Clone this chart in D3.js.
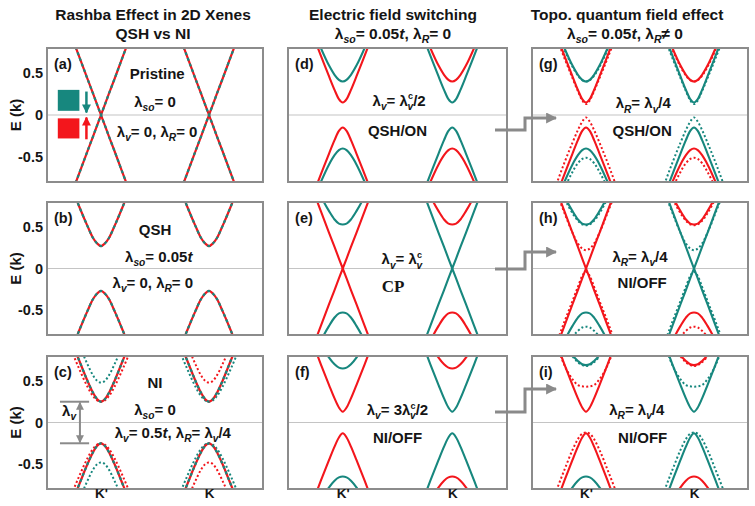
<!DOCTYPE html>
<html>
<head>
<meta charset="utf-8">
<script src="https://cdn.jsdelivr.net/npm/d3@7"></script>
<style>
body { margin: 0; background: #fff; }
text { font-family: "Liberation Sans", Arial, sans-serif; font-weight: bold; fill: #151515; }
</style>
</head>
<body>
<div id="chart"></div>
<script>
const width = 755;
const height = 506;
const red = "#f3161c";
const teal = "#17877e";
const gray = "#8a8a8a";

// k offsets from the valley centre where the band profiles were read
const qOffsets = [0, 0.07, 0.15, 0.25, 0.4, 0.55];
const valleyNames = ["K'", "K"];
const valleyK = [1, 3];
const yTicks = [-0.5, 0, 0.5];
const yTickLabels = ["-0.5", "0", "0.5"];

// |E| at qOffsets
const dirac = [0, 0.12, 0.26, 0.43, 0.69, 0.95];
const gap13 = [0.13, 0.18, 0.29, 0.45, 0.70, 0.96];
const gap15 = [0.15, 0.19, 0.30, 0.46, 0.71, 0.96];
const gap25 = [0.25, 0.28, 0.36, 0.50, 0.74, 0.98];
const gap27 = [0.27, 0.30, 0.37, 0.51, 0.74, 0.99];
const gap40 = [0.40, 0.42, 0.48, 0.59, 0.80, 1.04];
const gap53 = [0.53, 0.54, 0.59, 0.69, 0.87, 1.09];
const gap65 = [0.65, 0.66, 0.70, 0.78, 0.95, 1.17];
const gap69 = [0.69, 0.70, 0.74, 0.81, 0.98, 1.19];
const gap70 = [0.70, 0.71, 0.75, 0.82, 0.98, 1.19];
const narrow48 = [0.48, 0.50, 0.57, 0.70, 0.93, 1.18];
const wide25 = [0.25, 0.265, 0.32, 0.43, 0.64, 0.87];
const wide03 = [0.03, 0.08, 0.18, 0.33, 0.57, 0.83];
const narrow51 = [0.51, 0.525, 0.575, 0.68, 0.88, 1.12];
const wide13 = [0.13, 0.175, 0.285, 0.44, 0.68, 0.93];
const wide40 = [0.40, 0.415, 0.47, 0.575, 0.78, 1.01];
const round22 = [0.22, 0.24, 0.30, 0.43, 0.67, 0.92];
const wide04 = [0.04, 0.09, 0.22, 0.39, 0.64, 0.90];
const wide53 = [0.52, 0.53, 0.575, 0.665, 0.845, 1.07];
const flat43 = [0.43, 0.435, 0.45, 0.52, 0.69, 0.95];
const wide12 = [0.12, 0.135, 0.20, 0.33, 0.57, 0.82];
const wide69 = [0.68, 0.69, 0.725, 0.795, 0.955, 1.16];

// bands: [valley, sign, kind, profile]
const bandsA = [[0, 1, "dual", dirac], [0, -1, "dual", dirac], [1, 1, "dual", dirac], [1, -1, "dual", dirac]];
const bandsB = [[0, 1, "dual", gap27], [0, -1, "dual", gap27], [1, 1, "dual", gap27], [1, -1, "dual", gap27]];
const bandsC = [
    [0, 1, "tealDot", narrow48], [0, 1, "redDot", wide25], [0, -1, "redDot", wide25], [0, -1, "tealDot", narrow48],
    [1, 1, "redDot", narrow48], [1, 1, "tealDot", wide25], [1, -1, "tealDot", wide25], [1, -1, "redDot", narrow48],
    [0, 1, "dual", gap25], [0, -1, "dual", gap25], [1, 1, "dual", gap25], [1, -1, "dual", gap25]];
const bandsD = [
    [0, 1, "teal", gap40], [0, 1, "red", gap15], [0, -1, "red", gap15], [0, -1, "teal", gap40],
    [1, 1, "red", gap40], [1, 1, "teal", gap15], [1, -1, "teal", gap15], [1, -1, "red", gap40]];
const bandsE = [
    [0, 1, "red", dirac], [0, -1, "red", dirac], [0, 1, "teal", gap53], [0, -1, "teal", gap53],
    [1, 1, "teal", dirac], [1, -1, "teal", dirac], [1, 1, "red", gap53], [1, -1, "red", gap53]];
const bandsF = [
    [0, 1, "red", gap13], [0, -1, "red", gap13], [0, 1, "teal", gap65], [0, -1, "teal", gap65],
    [1, 1, "teal", gap13], [1, -1, "teal", gap13], [1, 1, "red", gap65], [1, -1, "red", gap65]];
const bandsG = [
    [0, 1, "redDot", wide13], [0, 1, "tealDot", wide40], [0, -1, "redDot", wide03], [0, -1, "tealDot", narrow51],
    [1, 1, "tealDot", wide13], [1, 1, "redDot", wide40], [1, -1, "tealDot", wide03], [1, -1, "redDot", narrow51],
    ...bandsD];
const bandsH = [
    [0, 1, "redDot", round22], [0, -1, "redDot", wide04], [0, 1, "tealDot", wide53], [0, -1, "tealDot", gap70],
    [1, 1, "tealDot", round22], [1, -1, "tealDot", wide04], [1, 1, "redDot", wide53], [1, -1, "redDot", gap70],
    ...bandsE];
const bandsI = [
    [0, 1, "redDot", flat43], [0, -1, "redDot", wide12], [0, 1, "tealDot", wide69],
    [1, 1, "tealDot", flat43], [1, -1, "tealDot", wide12], [1, 1, "redDot", wide69],
    [0, 1, "red", gap13], [0, -1, "red", gap13], [0, 1, "teal", gap69], [0, -1, "teal", gap65],
    [1, 1, "teal", gap13], [1, -1, "teal", gap13], [1, 1, "red", gap69], [1, -1, "red", gap65]];

const panelBands = [bandsA, bandsB, bandsC, bandsD, bandsE, bandsF, bandsG, bandsH, bandsI];
const panelLetters = ["(a)", "(b)", "(c)", "(d)", "(e)", "(f)", "(g)", "(h)", "(i)"];

const lamSo = [["λ"], ["so", "sub"]];
const lamV = [["λ"], ["v", "sub"]];
const lamR = [["λ"], ["R", "sub"]];
const lamVc = [["λ"], ["c", "sup"], ["v", "subx"]];

// labels inside panels: [k, E, parts, serif]
const notes = [
    [[2.04, 0.43, [["Pristine"]]], [2.0, 0.10, [...lamSo, ["= 0"]]], [2.04, -0.26, [...lamV, ["= 0, λ"], ["R", "sub"], ["= 0"]]]],
    [[2.0, 0.40, [["QSH"]]], [2.07, 0.08, [...lamSo, ["= 0.05"], ["t", "it"]]], [1.96, -0.23, [...lamV, ["= 0, λ"], ["R", "sub"], ["= 0"]]]],
    [[2.0, 0.41, [["NI"]]], [2.0, 0.09, [...lamSo, ["= 0"]]], [2.33, -0.19, [...lamV, ["= 0.5"], ["t", "it"], [", λ"], ["R", "sub"], ["= λ"], ["v", "sub"], ["/4"]]]],
    [[2.03, 0.11, [...lamV, ["= "], ...lamVc, ["/2"]]], [2.0, -0.25, [["QSH/ON"]]]],
    [[2.08, 0.05, [...lamV, ["= "], ...lamVc]], [1.92, -0.28, [["CP"]], true]],
    [[2.0, 0.09, [...lamV, ["= 3"], ...lamVc, ["/2"]]], [2.0, -0.25, [["NI/OFF"]]]],
    [[2.06, 0.08, [...lamR, ["= λ"], ["v", "sub"], ["/4"]]], [2.04, -0.25, [["QSH/ON"]]]],
    [[2.0, 0.08, [...lamR, ["= λ"], ["v", "sub"], ["/4"]]], [2.04, -0.23, [["NI/OFF"]]]],
    [[1.94, 0.09, [...lamR, ["= λ"], ["v", "sub"], ["/4"]]], [2.05, -0.25, [["NI/OFF"]]]]
];

const titleLines = [
    [153, 20, [["Rashba Effect in 2D Xenes"]]],
    [153, 39, [["QSH vs NI"]]],
    [393, 20, [["Electric field switching"]]],
    [393, 39, [...lamSo, ["= 0.05"], ["t", "it"], [", λ"], ["R", "sub"], ["= 0"]]],
    [627, 20, [["Topo. quantum field effect"]]],
    [625, 39, [...lamSo, ["= 0.05"], ["t", "it"], [", λ"], ["R", "sub"], ["≠ 0"]]]
];

const colX = [[47, 263], [288, 507], [532, 748]];
const rowY = [[48, 182], [202, 335], [356, 489]];
const elbowRows = [[130, 118], [269, 252], [412, 389]];

const svg = d3.select("#chart")
    .append("svg")
    .attr("width", width)
    .attr("height", height);

const defs = svg.append("defs");

function addMarker(id, color, size) {
    defs.append("marker")
        .attr("id", id)
        .attr("viewBox", "0 0 10 10")
        .attr("refX", 9)
        .attr("refY", 5)
        .attr("markerUnits", "userSpaceOnUse")
        .attr("markerWidth", size)
        .attr("markerHeight", size)
        .attr("orient", "auto-start-reverse")
        .append("path")
        .attr("d", "M0,0 L10,5 L0,10 z")
        .attr("fill", color);
}
addMarker("head-teal", teal, 9);
addMarker("head-red", red, 9);
addMarker("head-gray", gray, 8);
addMarker("head-big", gray, 11);

function rich(sel, parts, size) {
    let shift = 0;
    parts.forEach(([s, kind]) => {
        let target = 0;
        const t = sel.append("tspan").text(s);
        if (kind === "sub" || kind === "subx") {
            target = size * 0.28;
            t.attr("font-size", size * 0.68).attr("font-style", "italic");
            if (kind === "subx") t.attr("dx", -size * 0.36);
        } else if (kind === "sup") {
            target = -size * 0.42;
            t.attr("font-size", size * 0.6);
        } else if (kind === "it") {
            t.attr("font-style", "italic");
        }
        t.attr("dy", target - shift);
        shift = target;
    });
}

titleLines.forEach(([tx, ty, parts]) => {
    const t = svg.append("text")
        .attr("x", tx)
        .attr("y", ty)
        .attr("text-anchor", "middle")
        .attr("font-size", 15.5);
    rich(t, parts, 15.5);
});

panelBands.forEach((bands, i) => {
    const col = Math.floor(i / 3);
    const row = i % 3;
    const x = d3.scaleLinear().domain([0, 4]).range(colX[col]);
    const y = d3.scaleLinear().domain([-0.8, 0.8]).range([rowY[row][1], rowY[row][0]]);

    const g = svg.append("g");
    const clipId = "clip-" + i;
    defs.append("clipPath").attr("id", clipId)
        .append("rect")
        .attr("x", x.range()[0])
        .attr("y", y.range()[1])
        .attr("width", x.range()[1] - x.range()[0])
        .attr("height", y.range()[0] - y.range()[1]);

    g.append("line")
        .attr("x1", x(0)).attr("x2", x(4))
        .attr("y1", y(0)).attr("y2", y(0))
        .attr("stroke", "#c4c4c4")
        .attr("stroke-width", 1.2);

    const plot = g.append("g").attr("clip-path", `url(#${clipId})`);

    bands.forEach(([v, sign, kind, prof]) => {
        const pts = [];
        for (let j = qOffsets.length - 1; j > 0; j--) pts.push([valleyK[v] - qOffsets[j], sign * prof[j]]);
        for (let j = 0; j < qOffsets.length; j++) pts.push([valleyK[v] + qOffsets[j], sign * prof[j]]);
        const line = d3.line()
            .x(d => x(d[0]))
            .y(d => y(d[1]))
            .curve(prof[0] === 0 ? d3.curveLinear : d3.curveMonotoneX);
        const d = line(pts);
        if (kind === "dual") {
            plot.append("path").attr("d", d).attr("fill", "none")
                .attr("stroke", red).attr("stroke-width", 2.2);
            plot.append("path").attr("d", d).attr("fill", "none")
                .attr("stroke", teal).attr("stroke-width", 2.2)
                .attr("stroke-dasharray", "3,3");
        } else {
            const dotted = kind.endsWith("Dot");
            plot.append("path").attr("d", d).attr("fill", "none")
                .attr("stroke", kind.startsWith("red") ? red : teal)
                .attr("stroke-width", dotted ? 2 : 2.1)
                .attr("stroke-dasharray", dotted ? "2,2.3" : null);
        }
    });

    g.append("rect")
        .attr("x", x(0))
        .attr("y", y(0.8))
        .attr("width", x(4) - x(0))
        .attr("height", y(-0.8) - y(0.8))
        .attr("fill", "none")
        .attr("stroke", "#8c8c8c")
        .attr("stroke-width", 2);

    g.append("text")
        .attr("x", x(0.13))
        .attr("y", y(0.55))
        .attr("font-size", 14.5)
        .text(panelLetters[i]);

    notes[i].forEach(([k, e, parts, serif]) => {
        const t = g.append("text")
            .attr("x", x(k))
            .attr("y", y(e))
            .attr("text-anchor", "middle")
            .attr("font-size", serif ? 17 : 15);
        if (serif) t.style("font-family", "'Liberation Serif', 'Times New Roman', serif");
        rich(t, parts, 15);
    });

    if (col === 0) {
        const axis = d3.axisLeft(y)
            .tickValues(yTicks)
            .tickSize(0)
            .tickPadding(4)
            .tickFormat((d, j) => yTickLabels[j]);
        g.append("g")
            .attr("transform", `translate(${x(0)},0)`)
            .call(axis)
            .call(s => s.select(".domain").remove())
            .selectAll("text")
            .attr("font-size", 14.5)
            .attr("font-family", null)
            .attr("fill", "#151515");

        g.append("text")
            .attr("transform", `translate(${x(0) - 26},${y(0)}) rotate(-90)`)
            .attr("text-anchor", "middle")
            .attr("font-size", 15)
            .text("E (k)");
    }

    if (row === 2) {
        const axis = d3.axisBottom(x)
            .tickValues(valleyK)
            .tickSize(0)
            .tickPadding(1)
            .tickFormat((d, j) => valleyNames[j]);
        g.append("g")
            .attr("transform", `translate(0,${y(-0.8)})`)
            .call(axis)
            .call(s => s.select(".domain").remove())
            .selectAll("text")
            .attr("dy", "0.62em")
            .attr("font-size", 13.5)
            .attr("font-family", null)
            .attr("fill", "#151515");
    }

    if (i === 0) {
        // spin legend
        g.append("rect").attr("x", x(0.2)).attr("y", y(0.3))
            .attr("width", x(0.6) - x(0.2)).attr("height", y(0.05) - y(0.3))
            .attr("fill", teal);
        g.append("rect").attr("x", x(0.2)).attr("y", y(-0.04))
            .attr("width", x(0.6) - x(0.2)).attr("height", y(-0.28) - y(-0.04))
            .attr("fill", red);
        g.append("line").attr("x1", x(0.73)).attr("x2", x(0.73))
            .attr("y1", y(0.28)).attr("y2", y(0.03))
            .attr("stroke", teal).attr("stroke-width", 2.5)
            .attr("marker-end", "url(#head-teal)");
        g.append("line").attr("x1", x(0.73)).attr("x2", x(0.73))
            .attr("y1", y(-0.29)).attr("y2", y(-0.03))
            .attr("stroke", red).attr("stroke-width", 2.5)
            .attr("marker-end", "url(#head-red)");
    }

    if (i === 2) {
        // valley gap bracket
        [0.25, -0.25].forEach(e => {
            g.append("line").attr("x1", x(0.24)).attr("x2", x(0.78))
                .attr("y1", y(e)).attr("y2", y(e))
                .attr("stroke", gray).attr("stroke-width", 2);
        });
        g.append("line").attr("x1", x(0.61)).attr("x2", x(0.61))
            .attr("y1", y(0.24)).attr("y2", y(-0.24))
            .attr("stroke", gray).attr("stroke-width", 2)
            .attr("marker-start", "url(#head-gray)")
            .attr("marker-end", "url(#head-gray)");
        const t = g.append("text")
            .attr("x", x(0.28))
            .attr("y", y(0.08))
            .attr("font-size", 15);
        rich(t, lamV, 15);
    }
});

// elbow arrows from column 2 to column 3
elbowRows.forEach(([ya, yb]) => {
    svg.append("path")
        .attr("d", d3.line()([[495, ya], [525, ya], [525, yb], [556, yb]]))
        .attr("fill", "none")
        .attr("stroke", gray)
        .attr("stroke-width", 3)
        .attr("marker-end", "url(#head-big)");
});
</script>
</body>
</html>
